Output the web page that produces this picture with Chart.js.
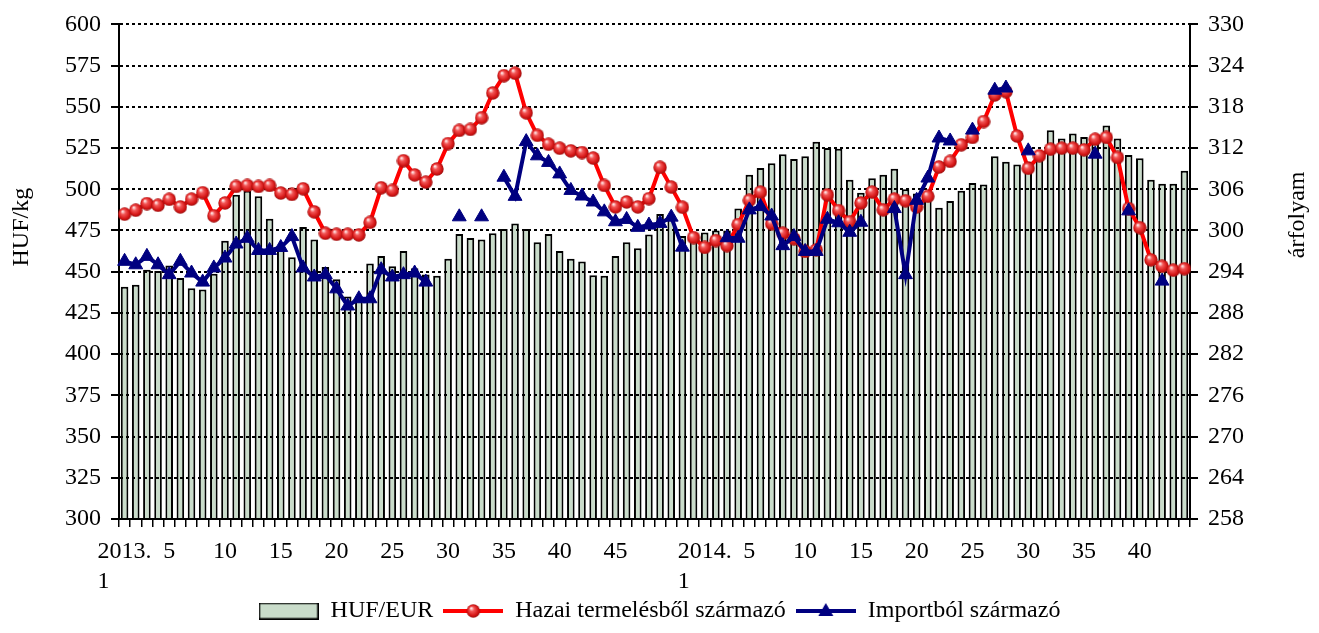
<!DOCTYPE html>
<html>
<head>
<meta charset="utf-8">
<script src="https://cdn.jsdelivr.net/npm/chart.js@4.4.1/dist/chart.umd.min.js"></script>
<style>
  html, body { margin: 0; padding: 0; background: #fff; }
  #wrap { width: 1319px; height: 633px; position: relative; }
</style>
</head>
<body>
<div id="wrap"><canvas id="chart"></canvas></div>
<script>
// DATA
const years = ["2013.", "2014."];
const weeksInYear = [52, 44];
// weeks that carry a tick label, per year
const labelledWeeks = [
  [1, 5, 10, 15, 20, 25, 30, 35, 40, 45],
  [1, 5, 10, 15, 20, 25, 30, 35, 40]
];

// HUF/EUR weekly rate (right axis)
const hufEur = [
  291.8, 292.1, 294.3, 294.1, 294.9, 293.1, 291.6, 291.4, 293.7, 298.5,
  305.2, 305.8, 305.0, 301.7, 297.7, 296.1, 300.5, 298.7, 294.7, 292.9,
  290.4, 289.8, 295.2, 296.3, 294.8, 297.0, 294.5, 293.6, 293.4, 295.9,
  299.5, 298.9, 298.7, 299.6, 300.2, 301.0, 300.2, 298.3, 299.5, 297.0,
  295.9, 295.5, 293.5, 293.4, 296.3, 298.3, 297.4, 299.4, 302.4, 302.3,
  299.2, 298.9, 299.7, 300.0, 300.0, 303.2, 308.1, 309.1, 309.8, 311.1,
  310.4, 310.8, 312.9, 312.0, 311.9, 307.4, 305.5, 307.6, 308.1, 309.0,
  306.0, 305.4, 304.6, 303.3, 304.3, 305.8, 306.9, 306.7, 310.8, 310.0,
  309.6, 310.0, 311.4, 314.6, 313.4, 314.1, 313.6, 313.3, 315.3, 313.4,
  311.0, 310.5, 307.4, 306.8, 306.8, 308.7
];

// HUF/kg, domestic production
const hazai = [
  484.9, 487.3, 491.3, 490.3, 493.9, 489.3, 494.0, 497.9, 483.9, 491.7,
  501.7, 502.3, 501.7, 502.3, 497.7, 496.9, 500.3, 486.3, 473.3, 472.7,
  472.7, 472.3, 479.9, 500.9, 499.3, 517.3, 508.7, 504.3, 512.3, 527.7,
  535.7, 536.3, 543.4, 558.4, 568.9, 570.4, 546.4, 532.7, 527.3, 524.9,
  523.3, 522.3, 518.9, 502.3, 489.3, 492.3, 489.3, 494.3, 513.3, 501.3,
  489.1, 470.7, 464.7, 468.9, 465.8, 478.6, 493.3, 498.3, 479.1, 473.3,
  470.0, 462.3, 463.2, 496.6, 487.1, 480.3, 491.7, 498.3, 487.5, 494.0,
  493.0, 489.3, 495.7, 513.5, 516.9, 527.0, 531.4, 541.1, 557.2, 559.2,
  532.3, 512.7, 520.3, 524.3, 524.9, 524.9, 523.9, 530.3, 531.4, 519.3,
  488.3, 476.7, 457.2, 453.3, 450.9, 451.8
];

// HUF/kg, import (gaps where no data)
const importSeries = [
  456.3, 454.2, 459.3, 454.2, 448.2, 456.3, 449.2, 443.7, 452.3, 458.3,
  466.8, 470.3, 462.9, 462.9, 464.7, 471.3, 452.3, 446.8, 448.2, 439.6,
  429.2, 433.6, 433.6, 451.2, 446.8, 448.2, 449.2, 443.7, null, null,
  483.3, null, 483.3, null, 507.3, 495.7, 528.9, 520.3, 516.3, 509.3,
  499.3, 495.9, 492.3, 486.3, 480.3, 481.7, 476.9, 478.3, 479.3, 483.1,
  464.9, null, null, null, 470.6, 470.3, 487.5, 489.5, 483.8, 465.8,
  471.3, 462.3, 462.3, 481.8, 479.7, 473.9, 480.0, null, null, 488.3,
  448.2, 493.3, 506.8, 531.1, 529.3, null, 535.9, null, 560.1, 561.4,
  null, 523.3, null, null, null, null, null, 521.3, null, null,
  486.9, null, null, 444.3, null, null
];

const seriesNames = ["HUF/EUR", "Hazai termelésből származó", "Importból származó"];

// AXES
const leftMin = 300, leftMax = 600, leftStep = 25;
const rightMin = 258, rightMax = 330, rightStep = 6;

// CATEGORIES
const categories = [];
const catYear = [];
const catWeek = [];
years.forEach((yr, i) => {
  for (let w = 1; w <= weeksInYear[i]; w++) {
    categories.push(yr + " " + w);
    catYear.push(i);
    catWeek.push(w);
  }
});

const FONT = '"Liberation Serif", "Times New Roman", serif';
const BAR_FILL = "#c9dcca";
const RED = "#ff0000";
const NAVY = "#000080";

Chart.defaults.font.family = FONT;
Chart.defaults.font.size = 24;
Chart.defaults.color = "#000";

// MARKERS
function makeSphere(d) {
  const c = document.createElement("canvas");
  c.width = d; c.height = d;
  const g = c.getContext("2d");
  const r = d / 2;
  const grad = g.createRadialGradient(r * 0.7, r * 0.6, 0.5, r, r, r);
  grad.addColorStop(0, "#ffe4e4");
  grad.addColorStop(0.3, "#f25555");
  grad.addColorStop(0.75, "#d41414");
  grad.addColorStop(1, "#941010");
  g.fillStyle = grad;
  g.beginPath();
  g.arc(r, r, r - 0.3, 0, Math.PI * 2);
  g.fill();
  return c;
}
const sphere = makeSphere(14);

function legendBar() {
  const c = document.createElement("canvas");
  c.width = 60; c.height = 17;
  const g = c.getContext("2d");
  g.fillStyle = BAR_FILL;
  g.fillRect(1, 1, 58, 15);
  g.strokeStyle = "#000";
  g.lineWidth = 1.5;
  g.strokeRect(0.75, 0.75, 58.5, 15.5);
  return c;
}

function legendLine(color, marker) {
  const c = document.createElement("canvas");
  c.width = 60; c.height = 18;
  const g = c.getContext("2d");
  g.strokeStyle = color;
  g.lineWidth = 4;
  g.beginPath(); g.moveTo(0, 9); g.lineTo(60, 9); g.stroke();
  if (marker === "sphere") {
    g.drawImage(sphere, 30 - 7, 9 - 7);
  } else {
    g.fillStyle = color;
    g.beginPath();
    g.moveTo(30, 1); g.lineTo(37.5, 14); g.lineTo(22.5, 14);
    g.closePath(); g.fill();
  }
  return c;
}

const legendIcons = [legendBar(), legendLine(RED, "sphere"), legendLine(NAVY, "triangle")];

// PLUGINS
// dotted grid lines sit on top of the bars
const gridOverBars = {
  id: "gridOverBars",
  afterDatasetDraw(chart, args) {
    if (args.meta.type === "bar") chart.scales.y.drawGrid(chart.chartArea);
  }
};

// axis titles
const axisTitles = {
  id: "axisTitles",
  afterDraw(chart) {
    const { ctx, chartArea } = chart;
    ctx.save();
    ctx.font = "24px " + FONT;
    ctx.fillStyle = "#000";
    ctx.textAlign = "center";
    ctx.textBaseline = "middle";
    ctx.save();
    ctx.translate(22, chartArea.top + chartArea.height * 0.41);
    ctx.rotate(-Math.PI / 2);
    ctx.fillText("HUF/kg", 0, 0);
    ctx.restore();
    ctx.save();
    ctx.translate(chart.width - 21, chartArea.top + chartArea.height * 0.385);
    ctx.rotate(-Math.PI / 2);
    ctx.fillText("árfolyam", 0, 0);
    ctx.restore();
    ctx.restore();
  }
};

// CHART
new Chart(document.getElementById("chart"), {
  data: {
    labels: categories,
    datasets: [
      {
        type: "bar",
        label: seriesNames[0],
        data: hufEur,
        yAxisID: "y1",
        base: rightMin,
        backgroundColor: BAR_FILL,
        borderColor: "#000",
        borderWidth: 2,
        borderSkipped: "bottom",
        barPercentage: 0.68,
        categoryPercentage: 1,
        order: 2
      },
      {
        type: "line",
        label: seriesNames[1],
        data: hazai,
        yAxisID: "y",
        borderColor: RED,
        borderWidth: 4,
        pointStyle: sphere,
        pointRadius: 7,
        tension: 0,
        order: 1
      },
      {
        type: "line",
        label: seriesNames[2],
        data: importSeries,
        yAxisID: "y",
        borderColor: NAVY,
        borderWidth: 4,
        pointStyle: "triangle",
        pointRadius: 8,
        pointBackgroundColor: NAVY,
        pointBorderColor: NAVY,
        pointBorderWidth: 1,
        spanGaps: false,
        tension: 0,
        order: 0
      }
    ]
  },
  options: {
    responsive: true,
    maintainAspectRatio: false,
    animation: false,
    layout: { padding: { top: 19, left: 0, right: 0, bottom: 0 } },
    plugins: {
      tooltip: { enabled: false },
      legend: {
        position: "bottom",
        labels: {
          usePointStyle: true,
          pointStyleWidth: 60,
          padding: 10,
          font: { size: 24 },
          generateLabels: () => seriesNames.map((name, i) => ({
            text: name,
            pointStyle: legendIcons[i],
            fillStyle: "#fff",
            strokeStyle: "#fff",
            lineWidth: 0,
            hidden: false,
            datasetIndex: i,
            rotation: 0
          }))
        }
      }
    },
    scales: {
      x: {
        offset: true,
        afterFit: s => { s.height = 70; },
        grid: {
          offset: true,
          drawOnChartArea: false,
          tickLength: 8,
          color: "#000",
          lineWidth: 1.5
        },
        border: { display: true, color: "#000", width: 2 },
        ticks: {
          autoSkip: false,
          maxRotation: 0,
          minRotation: 0,
          padding: 10,
          font: { size: 24, lineHeight: 1.25 },
          callback: (val, idx) => {
            const yi = catYear[idx], wk = catWeek[idx];
            if (!labelledWeeks[yi].includes(wk)) return "";
            if (wk === 1) return [years[yi], "1       "];
            return String(wk);
          }
        }
      },
      y: {
        position: "left",
        min: leftMin,
        max: leftMax,
        afterFit: s => { s.width = 119; },
        grid: {
          color: "#000",
          lineWidth: 2,
          tickLength: 8,
          tickWidth: 2,
          tickBorderDash: []
        },
        border: { display: true, color: "#000", width: 2, dash: [3, 3] },
        ticks: { stepSize: leftStep, padding: 10, font: { size: 24 } }
      },
      y1: {
        position: "right",
        min: rightMin,
        max: rightMax,
        afterFit: s => { s.width = 129; },
        grid: {
          drawOnChartArea: false,
          color: "#000",
          lineWidth: 2,
          tickLength: 8
        },
        border: { display: true, color: "#000", width: 2 },
        ticks: { stepSize: rightStep, padding: 10, font: { size: 24 } }
      }
    }
  },
  plugins: [gridOverBars, axisTitles]
});
</script>
</body>
</html>
